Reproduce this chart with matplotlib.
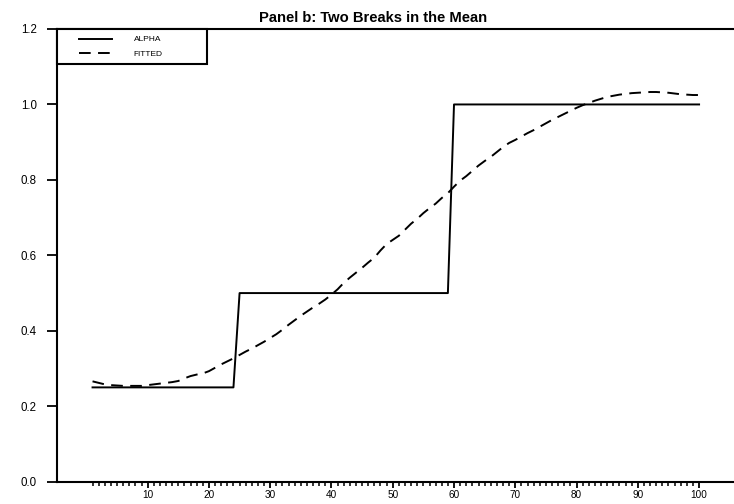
import numpy as np
import matplotlib
matplotlib.use("Agg")
import matplotlib.pyplot as plt
from matplotlib.legend_handler import HandlerLine2D

plt.rcParams['font.family'] = ['Liberation Sans', 'DejaVu Sans']

# observation index
t = np.arange(1, 101)

# true time-varying coefficient: breaks after obs 24 and 59
alpha = [0.25] * 24 + [0.5] * 35 + [1.0] * 41

# fitted path
fitted = [
    0.266, 0.262, 0.258, 0.256, 0.255, 0.254, 0.254, 0.254, 0.254, 0.256,
    0.258, 0.260, 0.262, 0.264, 0.267, 0.274, 0.280, 0.284, 0.287, 0.293,
    0.302, 0.311, 0.319, 0.327, 0.336, 0.345, 0.353, 0.362, 0.371, 0.381,
    0.391, 0.403, 0.416, 0.428, 0.440, 0.451, 0.462, 0.472, 0.483, 0.496,
    0.510, 0.527, 0.541, 0.554, 0.567, 0.581, 0.594, 0.613, 0.630, 0.641,
    0.652, 0.668, 0.684, 0.697, 0.712, 0.725, 0.737, 0.752, 0.765, 0.782,
    0.798, 0.810, 0.824, 0.838, 0.850, 0.861, 0.874, 0.887, 0.898, 0.906,
    0.915, 0.924, 0.932, 0.941, 0.950, 0.959, 0.967, 0.975, 0.983, 0.991,
    0.998, 1.004, 1.010, 1.015, 1.020, 1.023, 1.026, 1.028, 1.030, 1.031,
    1.032, 1.033, 1.033, 1.032, 1.031, 1.029, 1.027, 1.026, 1.025, 1.025,
]

yticks = [0.0, 0.2, 0.4, 0.6, 0.8, 1.0, 1.2]
xticks = [10, 20, 30, 40, 50, 60, 70, 80, 90, 100]

fig = plt.figure(figsize=(7.34, 5.04), dpi=100)
ax = fig.add_axes([57 / 734, 1 - 481.7 / 504, 1 - 57 / 734, (481.7 - 29) / 504])

ax.plot(t, alpha, color='black', lw=1.4, label='ALPHA')
ax.plot(t, fitted, color='black', lw=1.4, dashes=(6, 3.8), label='FITTED')

ax.set_xlim(-4.8, 105.7)
ax.set_ylim(0, 1.2)

ax.set_yticks(yticks)
ax.set_yticklabels(['%.1f' % v for v in yticks])
ax.set_xticks(xticks)
ax.set_xticks(t, minor=True)

ax.spines['right'].set_visible(False)
for s in ['left', 'top', 'bottom']:
    ax.spines[s].set_linewidth(1.5)

ax.tick_params(axis='y', which='major', direction='out', length=7.2, width=1.3,
               pad=7.2, labelsize=8.3)
ax.tick_params(axis='x', which='major', direction='out', length=4.5, width=1.3,
               pad=1.5, labelsize=7.2)
ax.tick_params(axis='x', which='minor', direction='out', length=3, width=1.1)
ax.tick_params(axis='y', which='minor', left=False)

fs = 6
bp = 0.8
xpad = (22 - bp * fs * 100 / 72) / (fs * 100 / 72)
hl = xpad + 33 / (fs * 100 / 72)
leg = ax.legend(loc='upper left', bbox_to_anchor=(0, 1, 150 / 677, 0), mode='expand',
                borderaxespad=0, fancybox=False, framealpha=1, edgecolor='black',
                fontsize=fs, borderpad=bp, handlelength=hl, handletextpad=2.6,
                labelspacing=0.75,
                handler_map={plt.Line2D: HandlerLine2D(xpad=xpad)})
leg.get_frame().set_linewidth(1.5)

ax.set_title('Panel b: Two Breaks in the Mean', fontsize=10.6, fontweight='bold',
             x=0.467, pad=5)

fig.savefig('out.png', dpi=100)
